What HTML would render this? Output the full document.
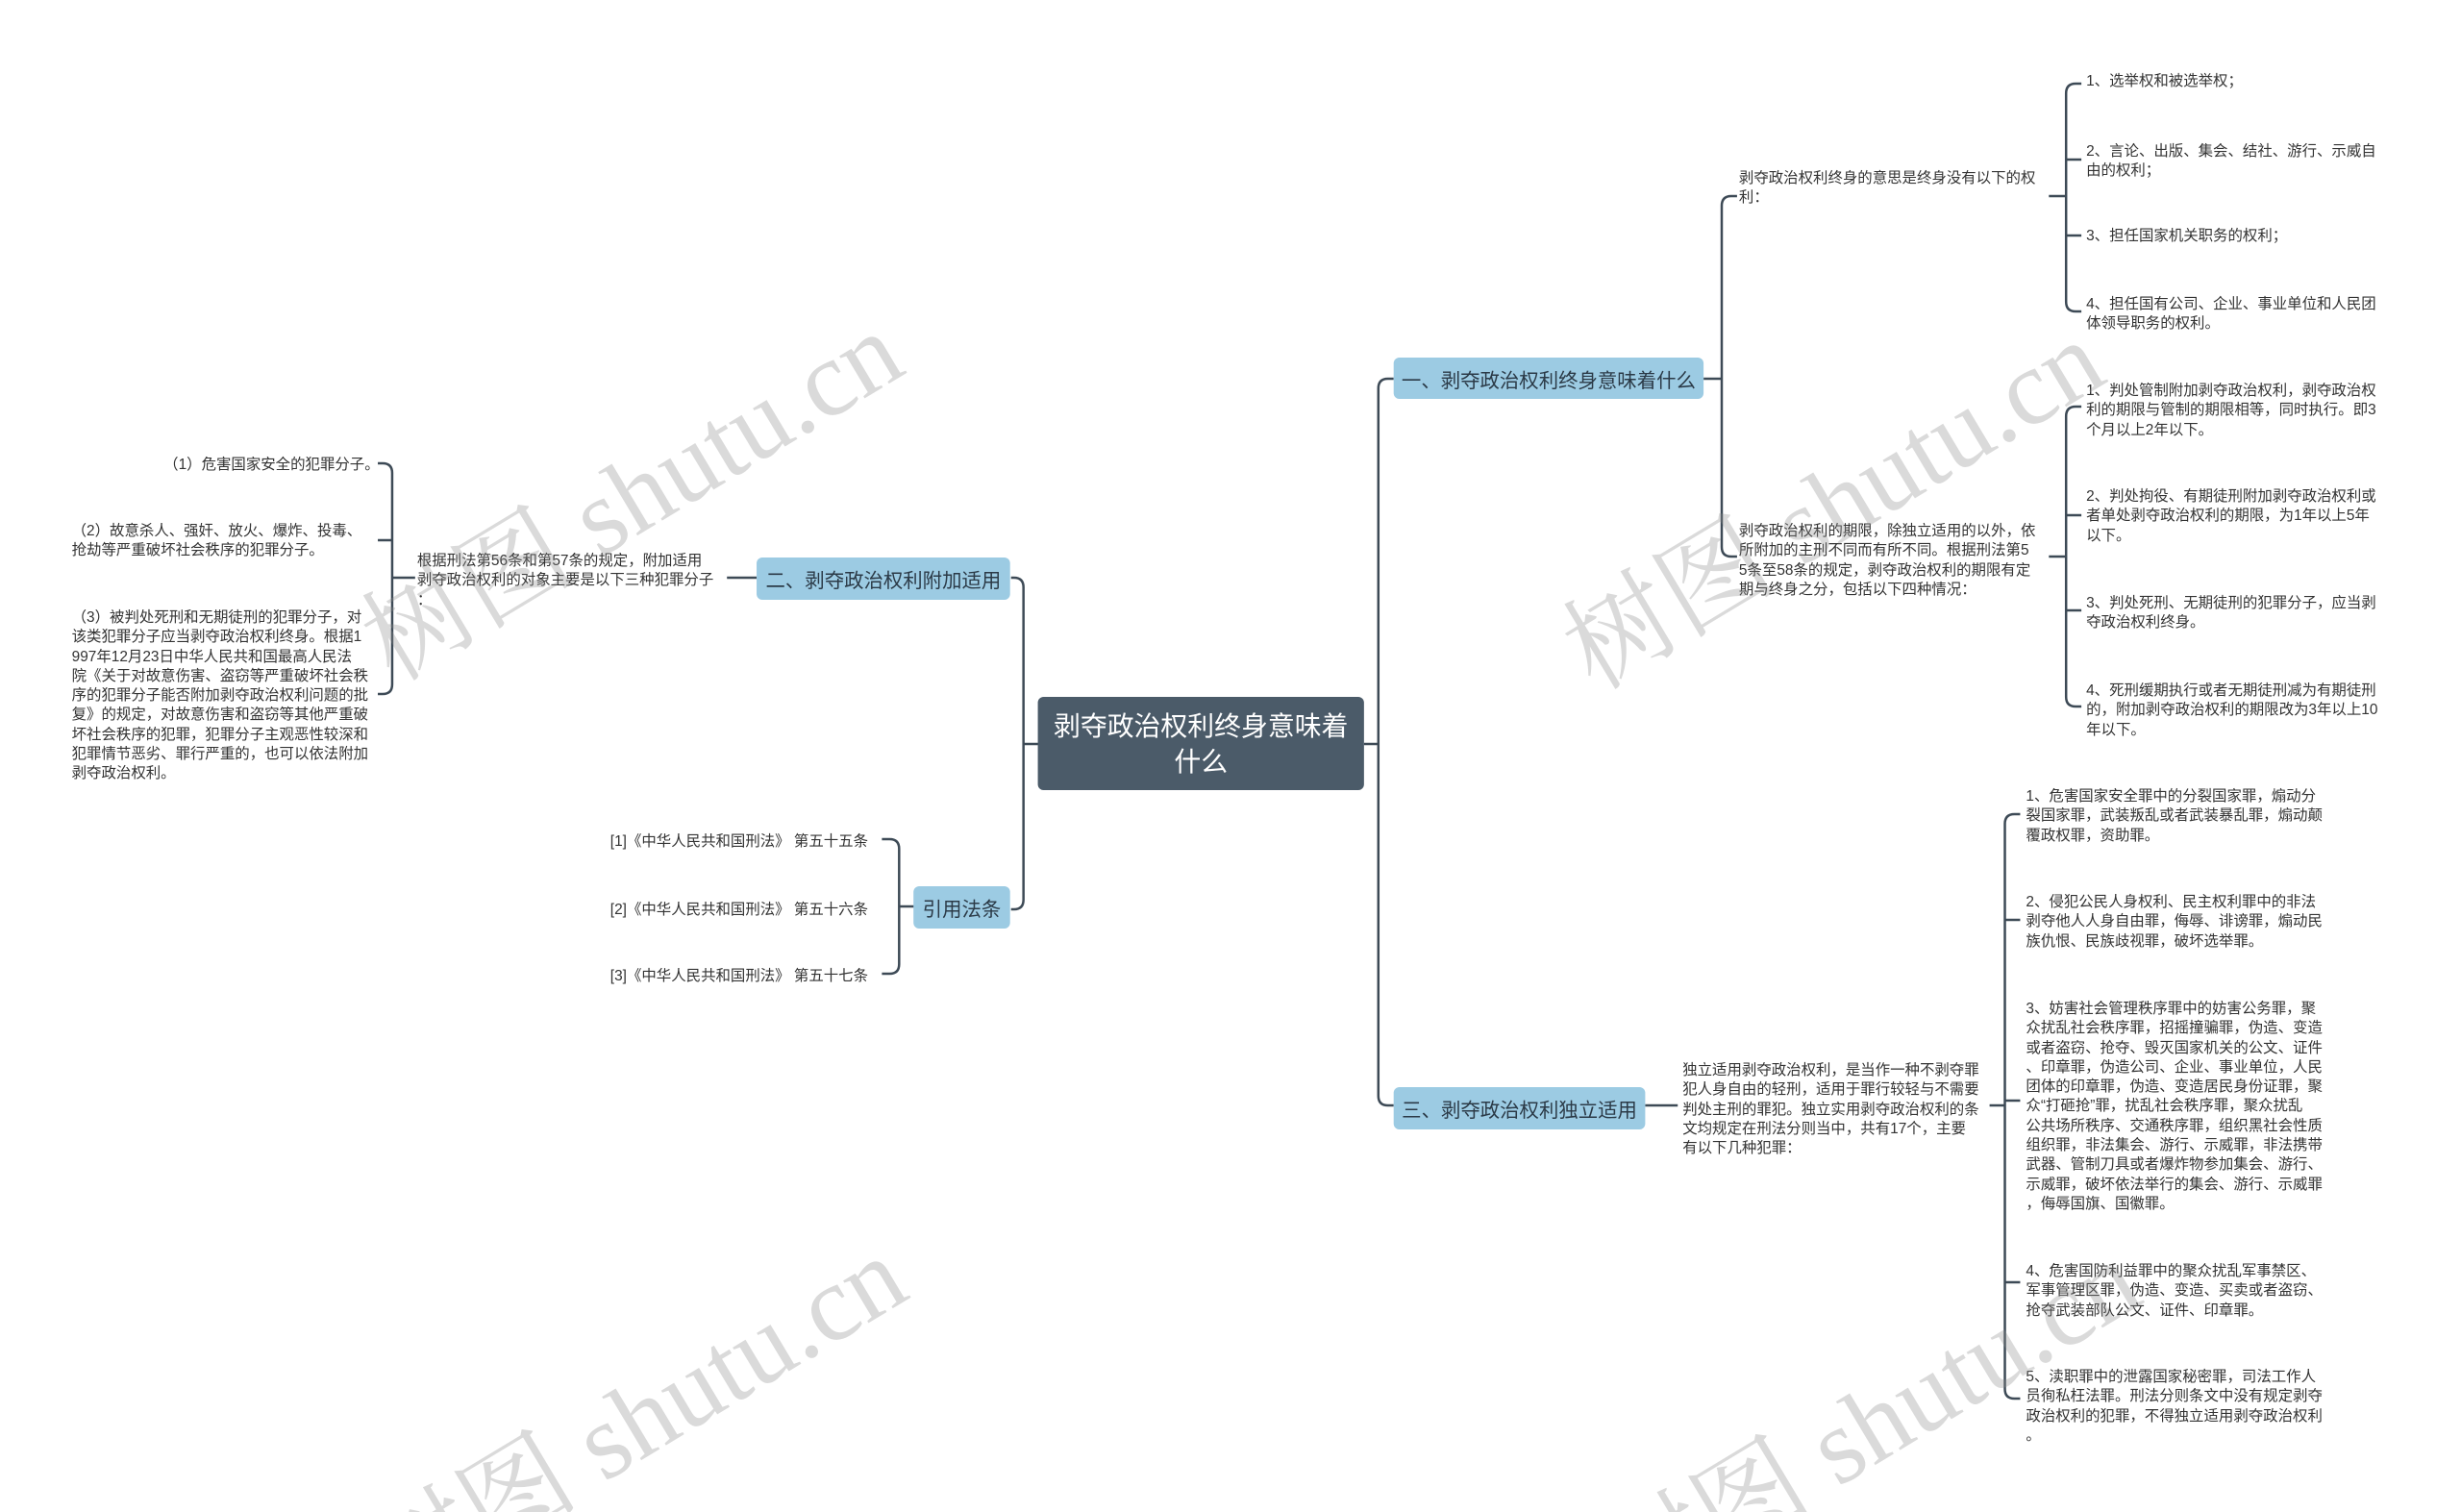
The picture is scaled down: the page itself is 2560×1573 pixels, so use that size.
<!DOCTYPE html>
<html><head><meta charset="utf-8"><style>
html,body{margin:0;padding:0;background:#fff;width:2560px;height:1573px;overflow:hidden;}
#c{position:relative;width:2560px;height:1573px;overflow:hidden;font-family:"Liberation Sans","Noto Sans CJK SC",sans-serif;}
#in{position:absolute;left:0;top:0;width:2560px;height:1573px;transform:scale(0.995,1);transform-origin:0 0;}
.t{position:absolute;font-size:15.5px;line-height:20.3px;color:#333;white-space:nowrap;}
.b{position:absolute;background:#9ccbe3;border-radius:6px;color:#2b3a47;font-size:20.5px;display:flex;align-items:center;justify-content:center;white-space:nowrap;}
.wm{position:absolute;font-family:"Liberation Serif","Noto Serif CJK SC",serif;font-size:112px;color:rgba(140,140,140,0.32);white-space:nowrap;transform:translate(-50%,-50%) rotate(-31deg);}
svg{position:absolute;left:0;top:0;}
</style></head><body><div id="c"><div id="in">
<svg width="2560" height="1573" fill="none" stroke="#3d4a56" stroke-width="2.5">
<path d="M1426 774 H1441 M1441 404 V1140 M1441 404 Q1441 394 1451 394 H1457 M1441 1140 Q1441 1150 1451 1150 H1457"/>
<path d="M1090 774 H1070 M1070 611 V936 M1070 611 Q1070 601 1060 601 H1057 M1070 936 Q1070 946 1060 946 H1057"/>
<path d="M1781 394 H1800 M1800 214 V569 M1800 214 Q1800 204 1810 204 H1816 M1800 569 Q1800 579 1810 579 H1816"/>
<path d="M2142 204 H2160 M2160 97 V314 M2160 97 Q2160 87 2170 87 H2176 M2160 166 H2176 M2160 245 H2176 M2160 314 Q2160 324 2170 324 H2176"/>
<path d="M2142 579 H2160 M2160 433 V725 M2160 433 Q2160 423 2170 423 H2176 M2160 536 H2176 M2160 635 H2176 M2160 725 Q2160 735 2170 735 H2176"/>
<path d="M791 601 H760 M434 601 H410 M410 492 V712 M410 492 Q410 482 400 482 H395 M410 562 H395 M410 712 Q410 722 400 722 H395"/>
<path d="M957 943 H940 M940 883 V1003 M940 883 Q940 873 930 873 H922 M940 1003 Q940 1013 930 1013 H922"/>
<path d="M1720 1150 H1754 M2080 1150 H2096 M2096 857 V1445 M2096 857 Q2096 847 2106 847 H2112 M2096 957 H2112 M2096 1145 H2112 M2096 1334 H2112 M2096 1445 Q2096 1455 2106 1455 H2112"/>
</svg>

<div style="position:absolute;left:1085px;top:725px;width:341px;height:97px;background:#4b5b69;border-radius:6px;color:#fff;font-size:28px;line-height:37px;display:flex;align-items:center;justify-content:center;text-align:center;">剥夺政治权利终身意味着<br>什么</div>

<div class="b" style="left:1457px;top:372px;width:324px;height:43px;">一、剥夺政治权利终身意味着什么</div>
<div class="b" style="left:791px;top:580px;width:265px;height:44px;">二、剥夺政治权利附加适用</div>
<div class="b" style="left:955px;top:922px;width:101px;height:44px;">引用法条</div>
<div class="b" style="left:1457px;top:1131px;width:263px;height:44px;">三、剥夺政治权利独立适用</div>

<div class="t" style="left:1818px;top:176px;">剥夺政治权利终身的意思是终身没有以下的权<br>利：</div>
<div class="t" style="left:2181px;top:75px;">1、选举权和被选举权；</div>
<div class="t" style="left:2181px;top:148px;">2、言论、出版、集会、结社、游行、示威自<br>由的权利；</div>
<div class="t" style="left:2181px;top:236px;">3、担任国家机关职务的权利；</div>
<div class="t" style="left:2181px;top:307px;">4、担任国有公司、企业、事业单位和人民团<br>体领导职务的权利。</div>

<div class="t" style="left:1818px;top:543px;">剥夺政治权利的期限，除独立适用的以外，依<br>所附加的主刑不同而有所不同。根据刑法第5<br>5条至58条的规定，剥夺政治权利的期限有定<br>期与终身之分，包括以下四种情况：</div>
<div class="t" style="left:2181px;top:397px;">1、判处管制附加剥夺政治权利，剥夺政治权<br>利的期限与管制的期限相等，同时执行。即3<br>个月以上2年以下。</div>
<div class="t" style="left:2181px;top:507px;">2、判处拘役、有期徒刑附加剥夺政治权利或<br>者单处剥夺政治权利的期限，为1年以上5年<br>以下。</div>
<div class="t" style="left:2181px;top:618px;">3、判处死刑、无期徒刑的犯罪分子，应当剥<br>夺政治权利终身。</div>
<div class="t" style="left:2181px;top:709px;">4、死刑缓期执行或者无期徒刑减为有期徒刑<br>的，附加剥夺政治权利的期限改为3年以上10<br>年以下。</div>

<div class="t" style="left:436px;top:574px;">根据刑法第56条和第57条的规定，附加适用<br>剥夺政治权利的对象主要是以下三种犯罪分子<br>：</div>
<div class="t" style="left:171px;top:474px;">（1）危害国家安全的犯罪分子。</div>
<div class="t" style="left:75px;top:543px;">（2）故意杀人、强奸、放火、爆炸、投毒、<br>抢劫等严重破坏社会秩序的犯罪分子。</div>
<div class="t" style="left:75px;top:633px;">（3）被判处死刑和无期徒刑的犯罪分子，对<br>该类犯罪分子应当剥夺政治权利终身。根据1<br>997年12月23日中华人民共和国最高人民法<br>院《关于对故意伤害、盗窃等严重破坏社会秩<br>序的犯罪分子能否附加剥夺政治权利问题的批<br>复》的规定，对故意伤害和盗窃等其他严重破<br>坏社会秩序的犯罪，犯罪分子主观恶性较深和<br>犯罪情节恶劣、罪行严重的，也可以依法附加<br>剥夺政治权利。</div>

<div class="t" style="left:638px;top:866px;">[1]《中华人民共和国刑法》 第五十五条</div>
<div class="t" style="left:638px;top:937px;">[2]《中华人民共和国刑法》 第五十六条</div>
<div class="t" style="left:638px;top:1006px;">[3]《中华人民共和国刑法》 第五十七条</div>

<div class="t" style="left:1759px;top:1104px;">独立适用剥夺政治权利，是当作一种不剥夺罪<br>犯人身自由的轻刑，适用于罪行较轻与不需要<br>判处主刑的罪犯。独立实用剥夺政治权利的条<br>文均规定在刑法分则当中，共有17个，主要<br>有以下几种犯罪：</div>
<div class="t" style="left:2118px;top:819px;">1、危害国家安全罪中的分裂国家罪，煽动分<br>裂国家罪，武装叛乱或者武装暴乱罪，煽动颠<br>覆政权罪，资助罪。</div>
<div class="t" style="left:2118px;top:929px;">2、侵犯公民人身权利、民主权利罪中的非法<br>剥夺他人人身自由罪，侮辱、诽谤罪，煽动民<br>族仇恨、民族歧视罪，破坏选举罪。</div>
<div class="t" style="left:2118px;top:1040px;">3、妨害社会管理秩序罪中的妨害公务罪，聚<br>众扰乱社会秩序罪，招摇撞骗罪，伪造、变造<br>或者盗窃、抢夺、毁灭国家机关的公文、证件<br>、印章罪，伪造公司、企业、事业单位，人民<br>团体的印章罪，伪造、变造居民身份证罪，聚<br>众“打砸抢”罪，扰乱社会秩序罪，聚众扰乱<br>公共场所秩序、交通秩序罪，组织黑社会性质<br>组织罪，非法集会、游行、示威罪，非法携带<br>武器、管制刀具或者爆炸物参加集会、游行、<br>示威罪，破坏依法举行的集会、游行、示威罪<br>，侮辱国旗、国徽罪。</div>
<div class="t" style="left:2118px;top:1313px;">4、危害国防利益罪中的聚众扰乱军事禁区、<br>军事管理区罪，伪造、变造、买卖或者盗窃、<br>抢夺武装部队公文、证件、印章罪。</div>
<div class="t" style="left:2118px;top:1423px;">5、渎职罪中的泄露国家秘密罪，司法工作人<br>员徇私枉法罪。刑法分则条文中没有规定剥夺<br>政治权利的犯罪，不得独立适用剥夺政治权利<br>。</div>

<div class="wm" style="left:656px;top:508px;">树图 shutu.cn</div>
<div class="wm" style="left:1912px;top:517px;">树图 shutu.cn</div>
<div class="wm" style="left:660px;top:1470px;">树图 shutu.cn</div>
<div class="wm" style="left:1950px;top:1475px;">树图 shutu.cn</div>
</div></div></body></html>
